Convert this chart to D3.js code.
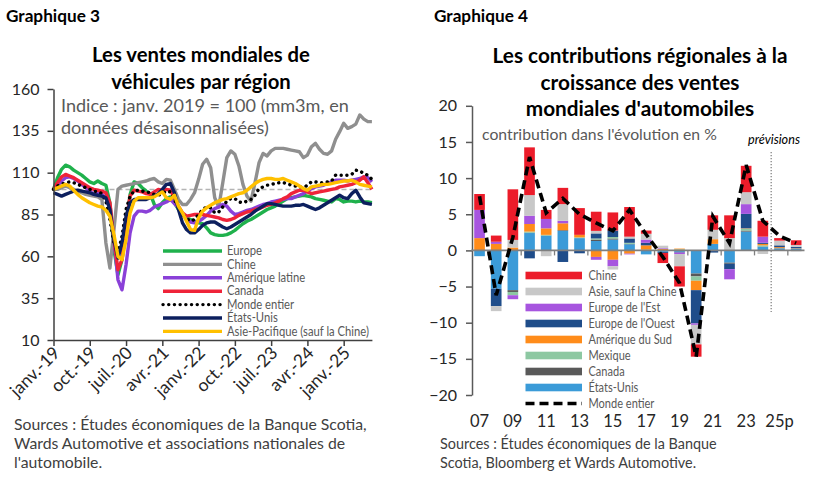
<!DOCTYPE html>
<html>
<head>
<meta charset="utf-8">
<script src="https://cdn.jsdelivr.net/npm/d3@7"></script>
<style>
  body { margin: 0; background: #fff; }
  svg { font-family: Lato, "Open Sans", sans-serif; }
</style>
</head>
<body>
<svg id="chart" width="828" height="483"></svg>
<script>
// ---- Graphique 3 : ventes mondiales de véhicules (indice, janv. 2019 = 100), mensuel janv.-19 .. août-25
const xTickIdx = [0, 9, 18, 27, 36, 45, 54, 63, 72];
const xTickLabels = ['janv.-19', 'oct.-19', 'juil.-20', 'avr.-21', 'janv.-22', 'oct.-22', 'juil.-23', 'avr.-24', 'janv.-25'];
const yTicksL = [10, 35, 60, 85, 110, 135, 160];

const europe = [100, 107, 112, 114.5, 113.5, 111.5, 110, 108.5, 106.5, 104.5,
  103.5, 105, 103.5, 102.5, 92, 64, 49, 58, 77, 97,
  104.5, 103.5, 101, 99, 97.5, 91, 88.5, 92, 94.5, 95.5,
  92, 88, 85, 83, 82, 81, 80, 79.5, 77, 74,
  73, 72.5, 72.5, 73, 74, 75.5, 77.5, 79.5, 81, 82,
  83.5, 85, 86.5, 88, 89, 90, 91.5, 93, 94.5, 95,
  95.5, 96, 96.5, 96, 95.5, 94.5, 94, 93.5, 93, 92.5,
  94.5, 94, 92.5, 93, 93, 92.5, 93, 92.5, 92.5, 92];
const chine = [100, 100, 101, 102, 101, 100, 99, 98, 97, 96.5,
  96, 95.5, 94, 68, 53, 76, 100, 102, 102.5, 103,
  103.5, 104, 104.5, 105, 106, 106.5, 104.5, 103.5, 106, 105.5,
  100, 94, 91, 91, 94, 98, 106, 115, 118, 113,
  95, 89.5, 104, 119, 123, 121, 114, 103, 96, 93,
  104, 116, 121.5, 120, 123, 124.5, 124.5, 124.5, 124, 123.5,
  123, 122.5, 119, 120.5, 125.5, 127.5, 124, 121.5, 121, 123,
  130, 134.5, 139.5, 136.5, 137.5, 139, 144.5, 142, 140.5, 140.5];
const ameriqueLatine = [100, 102, 105, 107, 107.5, 106.5, 105, 103, 101, 99,
  97, 98, 97, 95, 90, 70, 46, 40, 55, 74,
  84, 87, 87, 86.5, 87.5, 89.5, 90.5, 91.5, 92.5, 94,
  91.5, 89, 85.5, 82, 80.5, 80, 81, 82.5, 84.5, 87,
  88.5, 89.5, 91, 90, 87, 85, 85.5, 86.5, 87.5, 88,
  89, 90, 91, 91.5, 92.5, 93, 93.5, 94, 94.5, 94.5,
  95.5, 96.5, 97.5, 99, 100.5, 101.5, 102, 102.5, 103.5, 104.5,
  105.5, 105.5, 105.5, 105, 105.5, 106, 106.5, 107.5, 107, 104.5];
const canada = [100, 104, 107.5, 109, 108, 107, 105.5, 104, 102.5, 101,
  100, 99.5, 99, 98, 92, 70, 52, 58, 80, 96,
  99.5, 99, 98.5, 97.5, 97, 98.5, 100, 99.5, 100, 99.5,
  95, 90, 86, 84, 84.5, 85, 85, 85, 84.5, 84,
  83.5, 83, 82, 81.5, 82, 83, 84.5, 85.5, 86.5, 87,
  88, 88.5, 89.5, 90.5, 91, 92, 93, 94.5, 95.5, 97.5,
  98.5, 99.5, 99.5, 98.5, 97.5, 98, 98.5, 99, 99.5, 100,
  100.5, 101.5, 102, 102.5, 103, 104, 105.5, 107.5, 104, 100];
const mondeEntier = [100, 102, 103, 104, 104.5, 104, 103, 102, 101, 100,
  99, 98.5, 97.5, 93, 82, 68, 62, 72, 88, 96,
  99, 99.5, 99, 98.5, 98, 97, 96.5, 97.5, 99, 98.5,
  94, 89, 85, 82.5, 81, 82, 85, 88, 89.5, 89,
  86, 86.5, 89.5, 93, 94.5, 94.5, 92.5, 92, 93, 94,
  96.5, 100.5, 101.5, 102.5, 103, 103.5, 104, 104, 103.5, 102.5,
  102, 101.5, 101, 102.5, 104.5, 104.5, 104, 104, 104.5, 105,
  108.5, 108.5, 108.5, 108.5, 109, 111.5, 111, 109.5, 108.5, 106];
const etatsUnis = [98, 97, 96, 97, 98, 99, 99.5, 99, 98.5, 98,
  97, 96.5, 96, 95, 88, 70, 59, 68, 84, 92,
  94, 94, 94, 94, 95, 96, 97.5, 100, 103, 103.5,
  98, 88, 80, 76, 74, 74, 76, 78.5, 80, 80.5,
  80.5, 79, 77.5, 76.5, 77.5, 79, 80.5, 82, 83.5, 85,
  87, 88.5, 90, 91.5, 91.5, 91, 90.5, 90, 90, 90,
  90.5, 90.5, 91, 90, 89, 88, 89, 90.5, 92, 93.5,
  95, 96.5, 95, 94.5, 97.5, 99.5, 95.5, 92, 91.5, 91];
const asiePacifique = [100, 101, 102, 103, 102, 99.5, 97, 95, 93.5, 92,
  91, 90, 89.5, 87.5, 84, 73, 60, 58, 70, 86,
  93, 95, 95, 95, 95, 95.5, 97, 98.5, 95, 94,
  96.5, 90, 86, 81, 76, 75.5, 83, 87, 89, 90.5,
  92, 93, 94, 94.5, 95.5, 96.5, 97.5, 98, 99.5, 101.5,
  103.5, 105, 106, 106.5, 106.5, 106, 106, 106.5, 105.5, 104.5,
  103.5, 102, 100.5, 99.5, 101.5, 102, 102.5, 103, 103, 103.5,
  104, 104.5, 105, 105, 105.5, 104.5, 103, 102.5, 102, 101.5];

// ---- Graphique 4 : contributions régionales (points de %), 2007 .. 2026p
const years = ['07', '08', '09', '10', '11', '12', '13', '14', '15', '16',
  '17', '18', '19', '20', '21', '22', '23', '24', '25p', '26p'];
const chine4 = [2.2, 0.85, 7.0, 6.6, 1.25, 2.25, 3.7, 2.65, 2.5, 4.1, 0.45, -1.4, -2.8, -1.7, 2.0, 3.15, 3.65, 2.2, 0.35, 0.65];
const asie4 = [0, -0.7, 1.05, 2.85, -0.8, 2.3, 0, 0.35, -0.45, 0.25, 0.8, 0.35, -1.7, -2.7, 1.3, 1.7, 1.65, -0.5, 0.65, 0.25];
const europeEst = [3.9, 0.3, -0.55, 1.15, 1.3, 0.35, 0, -0.4, -0.9, -0.1, 0.45, 0.1, -0.2, -0.2, 0, -1.4, 1.35, 0.85, 0, 0];
const europeOuest = [0, -2.4, 0, -1.1, 0, -1.6, -0.4, 0.7, 0.9, 0.6, 0.35, -0.15, -0.1, -4.6, -0.3, -0.75, 2.0, 0.15, 0.25, 0.2];
const ameriqueSud = [1.7, 0.9, 0.4, 1.05, 0.9, 0.95, 0.35, -0.9, -1.3, -0.45, 0.6, 0.15, 0.1, -1.3, 0.65, 0, 0.05, 0.2, 0.15, 0.05];
const mexique = [0, 0, -0.45, 0.15, 0.1, 0, 0.1, 0.15, 0.2, 0.15, 0.1, 0.05, 0.1, -0.6, 0, 0, 0.25, 0.15, 0, 0];
const canada4 = [0, 0, -0.25, 0.05, 0.05, 0.1, 0, 0.2, 0.15, 0.05, 0, 0, 0.05, -0.4, 0, -0.15, 0.15, 0.05, 0, -0.1];
const etatsUnis4 = [-0.8, -5.3, -5.5, 2.4, 2.0, 2.7, 1.7, 1.3, 1.5, 0.85, -0.55, -0.2, -0.2, -3.2, 0.9, -1.7, 2.6, 0.5, 0.3, 0.25];
const monde4 = [7.5, -6.2, 1.8, 12.9, 5.2, 7.2, 5.0, 3.8, 2.7, 5.6, 2.2, -0.9, -4.5, -14.7, 4.7, 1.0, 11.8, 4.1, 2.0, 1.0];
const yTicksR = [-20, -15, -10, -5, 0, 5, 10, 15, 20];

const svg = d3.select('#chart');
svg.append('rect').attr('width', 828).attr('height', 483).attr('fill', '#fff');

function styleAxis(g, size) {
  g.attr('font-family', null).attr('font-size', size);
  g.selectAll('text').attr('fill', '#262626');
  g.selectAll('path, line').attr('stroke', '#404040').attr('stroke-width', 1.5);
}

// scale a block of texts so that its reference line gets the width seen on the original
function fit(sel, width, ref) {
  const node = ref || sel.node();
  const size = parseFloat(d3.select(node).attr('font-size'));
  sel.attr('font-size', size * width / node.getComputedTextLength());
}

// keep the font size but narrow the glyphs (the original uses a narrower face)
function squeeze(sel, width, ref) {
  const k = width / ref.getComputedTextLength();
  sel.each(function () {
    d3.select(this).attr('textLength', this.getComputedTextLength() * k).attr('lengthAdjust', 'spacingAndGlyphs');
  });
}

// ================= Graphique 3 =================
const gL = svg.append('g');
const xL = d3.scaleLinear().domain([0, 79]).range([53.5, 371.9]);
const yL = d3.scaleLinear().domain([10, 160]).range([340, 89]);

fit(gL.append('text').attr('x', 6).attr('y', 22).attr('font-size', 16.5).attr('font-weight', 'bold')
  .text('Graphique 3'), 94);
fit(gL.selectAll('text.titre').data(['Les ventes mondiales de', 'véhicules par région']).join('text')
  .attr('class', 'titre').attr('x', 201).attr('y', (d, i) => 62 + i * 27)
  .attr('text-anchor', 'middle').attr('font-size', 20.5).attr('font-weight', 'bold').text(d => d), 218);
fit(gL.selectAll('text.sous').data(['Indice : janv. 2019 = 100 (mm3m, en', 'données désaisonnalisées)']).join('text')
  .attr('class', 'sous').attr('x', 61).attr('y', (d, i) => 112 + i * 21.5)
  .attr('font-size', 17).attr('fill', '#595959').text(d => d), 288);

// ligne de référence à 100
gL.append('line').attr('x1', xL(0)).attr('x2', xL(79)).attr('y1', yL(100)).attr('y2', yL(100))
  .attr('stroke', '#b4b4b4').attr('stroke-width', 1.5).attr('stroke-dasharray', '5,3');

const seriesL = [
  { name: 'Europe', values: europe, color: '#1fb14c' },
  { name: 'Chine', values: chine, color: '#8f8f8f' },
  { name: 'Amérique latine', values: ameriqueLatine, color: '#8a40d8' },
  { name: 'Canada', values: canada, color: '#ef2339' },
  { name: 'Monde entier', values: mondeEntier, color: '#000', dotted: true },
  { name: 'États-Unis', values: etatsUnis, color: '#0c1f5e' },
  { name: 'Asie-Pacifique (sauf la Chine)', values: asiePacifique, color: '#ffc000' }
];

const lineL = d3.line().x((d, i) => xL(i)).y(d => yL(d));
seriesL.forEach(s => {
  const p = gL.append('path').datum(s.values).attr('d', lineL).attr('fill', 'none')
    .attr('stroke', s.color).attr('stroke-linejoin', 'round').attr('stroke-width', 3.4);
  if (s.dotted) p.attr('stroke-dasharray', '0.1,5.6').attr('stroke-linecap', 'round');
});

const xAxisL = gL.append('g').attr('transform', 'translate(0,340)')
  .call(d3.axisBottom(xL).tickValues(xTickIdx).tickFormat((d, i) => xTickLabels[i]).tickSize(6).tickSizeOuter(0));
styleAxis(xAxisL, 17.5);
xAxisL.selectAll('text').attr('x', 0).attr('y', 0).attr('dy', 0).attr('text-anchor', 'end')
  .attr('transform', 'translate(7,14) rotate(-45)');

const yAxisL = gL.append('g').attr('transform', `translate(${xL(0)},0)`)
  .call(d3.axisLeft(yL).tickValues(yTicksL).tickSize(6).tickPadding(8).tickSizeOuter(0));
styleAxis(yAxisL, 16);

// légende
const legL = gL.selectAll('g.legL').data(seriesL).join('g').attr('class', 'legL')
  .attr('transform', (d, i) => `translate(163,${251 + i * 13.4})`);
legL.append('line').attr('x1', 0).attr('x2', 59)
  .attr('stroke', d => d.color).attr('stroke-width', 3.4)
  .attr('stroke-dasharray', d => d.dotted ? '0.1,5.6' : null)
  .attr('stroke-linecap', d => d.dotted ? 'round' : 'butt');
const legLText = legL.append('text').attr('x', 64).attr('y', 4.2).attr('font-size', 12.5)
  .attr('fill', '#595959').text(d => d.name);
squeeze(legLText, 142, legLText.nodes()[6]);

fit(gL.selectAll('text.src').data(['Sources : Études économiques de la Banque Scotia,',
  'Wards Automotive et associations nationales de', "l'automobile."]).join('text')
  .attr('class', 'src').attr('x', 14).attr('y', (d, i) => 430 + i * 19)
  .attr('font-size', 15.5).attr('fill', '#404040').text(d => d), 353);

// ================= Graphique 4 =================
const gR = svg.append('g');
const xR = d3.scaleBand().domain(years).range([471.2, 804.5]).paddingInner(0.36).paddingOuter(0.18);
const yR = d3.scaleLinear().domain([-20, 20]).range([395, 105.8]);

fit(gR.append('text').attr('x', 434).attr('y', 22).attr('font-size', 16.5).attr('font-weight', 'bold')
  .text('Graphique 4'), 94);
fit(gR.selectAll('text.titre').data(['Les contributions régionales à la', 'croissance des ventes', "mondiales d'automobiles"])
  .join('text').attr('class', 'titre').attr('x', 640).attr('y', (d, i) => 63 + i * 26.5)
  .attr('text-anchor', 'middle').attr('font-size', 20.5).attr('font-weight', 'bold').text(d => d), 295);
fit(gR.append('text').attr('x', 482).attr('y', 140).attr('font-size', 15.8).attr('fill', '#595959')
  .text("contribution dans l'évolution en %"), 235);
fit(gR.append('text').attr('x', 748).attr('y', 144).attr('font-size', 12.5).attr('font-style', 'italic')
  .text('prévisions'), 52);

const seriesR = [
  { key: 'etatsUnis', name: 'États-Unis', values: etatsUnis4, color: '#3b9bd8' },
  { key: 'canada', name: 'Canada', values: canada4, color: '#595959' },
  { key: 'mexique', name: 'Mexique', values: mexique, color: '#8dc8a2' },
  { key: 'ameriqueSud', name: 'Amérique du Sud', values: ameriqueSud, color: '#ff8c1a' },
  { key: 'europeOuest', name: "Europe de l'Ouest", values: europeOuest, color: '#1f4d8a' },
  { key: 'europeEst', name: "Europe de l'Est", values: europeEst, color: '#a755df' },
  { key: 'asie', name: 'Asie, sauf la Chine', values: asie4, color: '#c8c8c8' },
  { key: 'chine', name: 'Chine', values: chine4, color: '#ec1c2a' }
];
const rows = years.map((y, i) => {
  const r = { year: y };
  seriesR.forEach(s => { r[s.key] = s.values[i]; });
  return r;
});
const stacked = d3.stack().keys(seriesR.map(s => s.key)).offset(d3.stackOffsetDiverging)(rows);
const colorR = d3.scaleOrdinal().domain(seriesR.map(s => s.key)).range(seriesR.map(s => s.color));

gR.selectAll('g.serie').data(stacked).join('g').attr('class', 'serie')
  .attr('fill', d => colorR(d.key))
  .selectAll('rect').data(d => d).join('rect')
  .attr('x', d => xR(d.data.year)).attr('width', xR.bandwidth())
  .attr('y', d => yR(Math.max(d[0], d[1])))
  .attr('height', d => Math.abs(yR(d[0]) - yR(d[1])));

// axe Y
const yAxisR = gR.append('g').attr('transform', 'translate(472,0)')
  .call(d3.axisLeft(yR).tickValues(yTicksR).tickSize(6).tickPadding(9).tickSizeOuter(0));
styleAxis(yAxisR, 16);
yAxisR.selectAll('path, line').attr('stroke', '#595959');

// ligne zéro et graduations entre les années
const step = xR.step();
const x0R = xR.range()[0];
gR.append('line').attr('x1', x0R).attr('x2', xR.range()[1]).attr('y1', yR(0)).attr('y2', yR(0))
  .attr('stroke', '#7f7f7f').attr('stroke-width', 1.6);
gR.selectAll('line.tk').data(years.filter((d, i) => i % 2 === 1)).join('line').attr('class', 'tk')
  .attr('x1', d => x0R + years.indexOf(d) * step).attr('x2', d => x0R + years.indexOf(d) * step)
  .attr('y1', yR(0)).attr('y2', yR(0) + 5).attr('stroke', '#7f7f7f').attr('stroke-width', 1.3);

// séparation des prévisions
gR.append('line').attr('x1', x0R + 18 * step).attr('x2', x0R + 18 * step).attr('y1', 152).attr('y2', 312)
  .attr('stroke', '#7a7a7a').attr('stroke-width', 1.2).attr('stroke-dasharray', '1.3,1.7');

// Monde entier
const lineR = d3.line().x((d, i) => xR(years[i]) + xR.bandwidth() / 2).y(d => yR(d));
gR.append('path').datum(monde4).attr('d', lineR).attr('fill', 'none').attr('stroke', '#000')
  .attr('stroke-width', 3.6).attr('stroke-dasharray', '9,5');

// axe X (étiquettes une année sur deux)
const xAxisR = gR.append('g').attr('transform', 'translate(0,395)')
  .call(d3.axisBottom(xR).tickValues(years.filter((d, i) => i % 2 === 0 && i < 19)).tickSize(0).tickPadding(20));
styleAxis(xAxisR, 16.5);
xAxisR.select('.domain').remove();

// légende
const legR = seriesR.slice().reverse().concat([{ name: 'Monde entier', dashed: true }]);
const lg = gR.selectAll('g.legR').data(legR).join('g').attr('class', 'legR')
  .attr('transform', (d, i) => `translate(525.5,${275.5 + i * 16})`);
lg.filter(d => !d.dashed).append('rect').attr('x', 0).attr('y', -3.8).attr('width', 56.5).attr('height', 7.6)
  .attr('fill', d => d.color);
lg.filter(d => d.dashed).append('line').attr('x1', 0).attr('x2', 56.5).attr('stroke', '#000')
  .attr('stroke-width', 3.6).attr('stroke-dasharray', '9,5');
const legRText = lg.append('text').attr('x', 63).attr('y', 4.5).attr('font-size', 13)
  .attr('fill', '#595959').text(d => d.name);
squeeze(legRText, 88, legRText.nodes()[1]);

fit(gR.selectAll('text.src').data(['Sources : Études économiques de la Banque', 'Scotia, Bloomberg et Wards Automotive.'])
  .join('text').attr('class', 'src').attr('x', 440).attr('y', (d, i) => 449 + i * 19)
  .attr('font-size', 15.5).attr('fill', '#404040').text(d => d), 277);
</script>
</body>
</html>
